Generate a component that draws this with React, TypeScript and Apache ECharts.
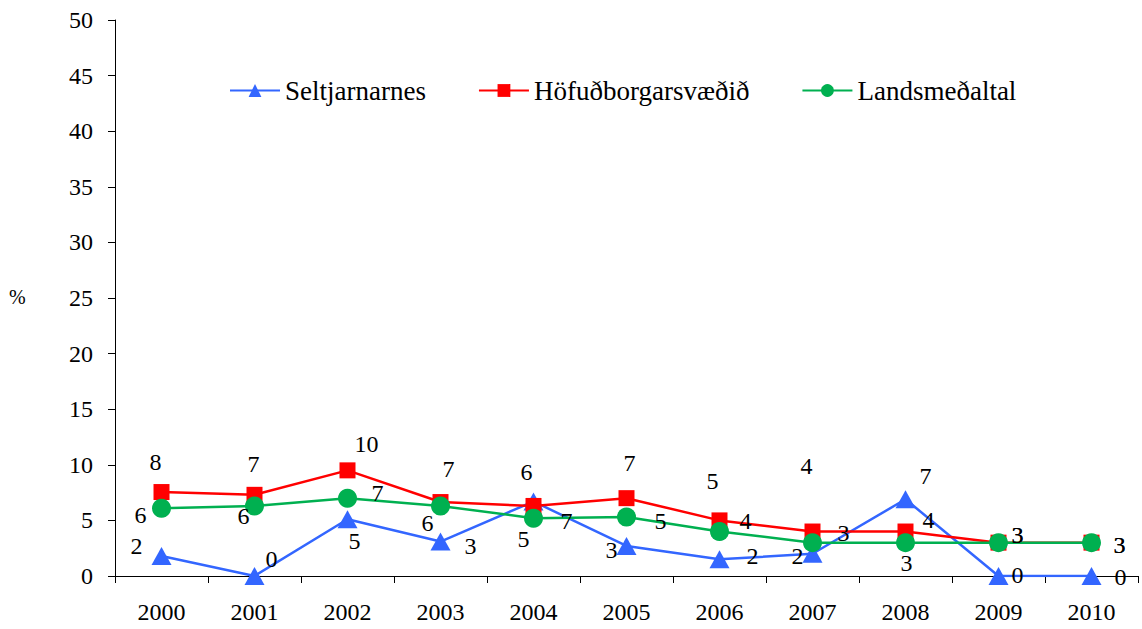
import React, { useEffect, useRef } from "react";
import * as echarts from "echarts";

const years = ["2000", "2001", "2002", "2003", "2004", "2005", "2006", "2007", "2008", "2009", "2010"];
const seltjarnarnes = [1.8, 0, 5.1, 3.1, 6.7, 2.7, 1.5, 2.0, 6.9, 0, 0];
const hofudborgarsvaedid = [7.55, 7.3, 9.5, 6.65, 6.3, 7.0, 5.0, 4.0, 4.0, 3.0, 3.0];
const landsmedaltal = [6.1, 6.3, 7.0, 6.3, 5.2, 5.3, 4.0, 3.0, 3.0, 3.0, 3.0];
const yTicks = { min: 0, max: 50, interval: 5 };

// label offsets (style only)
const blueOff = [[-25, -10], [17, -17], [7, 22], [30, 4], [33, 20], [-15, 4], [33, -3], [-15, 2], [20, -23], [19, -1], [29, 1]];
const redOff = [[-6, -30], [-1, -31], [19, -26], [8, -33], [-7, -34], [3, -35], [-7, -39], [-6, -66], [23, -12], [19, -8], [28, 2]];
const greenOff = [[-21, 7], [-11, 10], [30, -5], [-13, 17], [-10, 21], [34, 4], [26, -11], [31, -10], [1, 20], [19, -8], [28, 2]];

const FONT = "Liberation Serif";

function withLabels(values: number[], offs: number[][]) {
  return values.map((v, i) => ({
    value: v,
    label: { offset: offs[i] },
  }));
}

export default function App() {
  const ref = useRef<HTMLDivElement>(null);
  useEffect(() => {
    if (!ref.current) return;
    const chart = echarts.init(ref.current, undefined, { renderer: "svg" });
    const labelCommon = {
      show: true,
      position: "inside" as const,
      color: "#000",
      fontFamily: FONT,
      fontSize: 24,
      formatter: (p: any) => String(Math.round(p.value)),
    };
    chart.setOption({
      animation: false,
      grid: { left: 115, right: 4, top: 20, bottom: 53, containLabel: false },
      legend: {
        left: 224,
        top: 72,
        itemWidth: 50,
        itemHeight: 16,
        itemGap: 52,
        textStyle: { fontFamily: FONT, fontSize: 27, color: "#000" },
        data: ["Seltjarnarnes", "Höfuðborgarsvæðið", "Landsmeðaltal"],
      },
      graphic: [
        {
          type: "text",
          left: 9,
          top: 287,
          style: { text: "%", fontFamily: FONT, fontSize: 20, fill: "#000" },
        },
      ],
      xAxis: {
        type: "category",
        data: years,
        boundaryGap: true,
        axisLine: { lineStyle: { color: "#000", width: 1 } },
        axisTick: { show: true, length: 7, lineStyle: { color: "#000" } },
        axisLabel: { color: "#000", fontFamily: FONT, fontSize: 24, margin: 24 },
        splitLine: { show: false },
      },
      yAxis: {
        type: "value",
        min: yTicks.min,
        max: yTicks.max,
        interval: yTicks.interval,
        axisLine: { show: true, lineStyle: { color: "#000", width: 1 } },
        axisTick: { show: true, length: 7, lineStyle: { color: "#000" } },
        axisLabel: { color: "#000", fontFamily: FONT, fontSize: 24, margin: 22 },
        splitLine: { show: false },
      },
      series: [
        {
          name: "Seltjarnarnes",
          type: "line",
          data: withLabels(seltjarnarnes, blueOff),
          symbol: "triangle",
          symbolSize: [20, 18],
          itemStyle: { color: "#3366FF" },
          lineStyle: { color: "#3366FF", width: 2.5 },
          label: labelCommon,
        },
        {
          name: "Höfuðborgarsvæðið",
          type: "line",
          data: withLabels(hofudborgarsvaedid, redOff),
          symbol: "rect",
          symbolSize: 16,
          itemStyle: { color: "#FF0000" },
          lineStyle: { color: "#FF0000", width: 2.5 },
          label: labelCommon,
        },
        {
          name: "Landsmeðaltal",
          type: "line",
          data: withLabels(landsmedaltal, greenOff),
          symbol: "circle",
          symbolSize: 19,
          itemStyle: { color: "#00B050" },
          lineStyle: { color: "#00B050", width: 2.5 },
          label: labelCommon,
        },
      ],
    });
    return () => chart.dispose();
  }, []);
  return <div ref={ref} style={{ width: 1142, height: 629, position: "absolute", left: 0, top: 0 }} />;
}
